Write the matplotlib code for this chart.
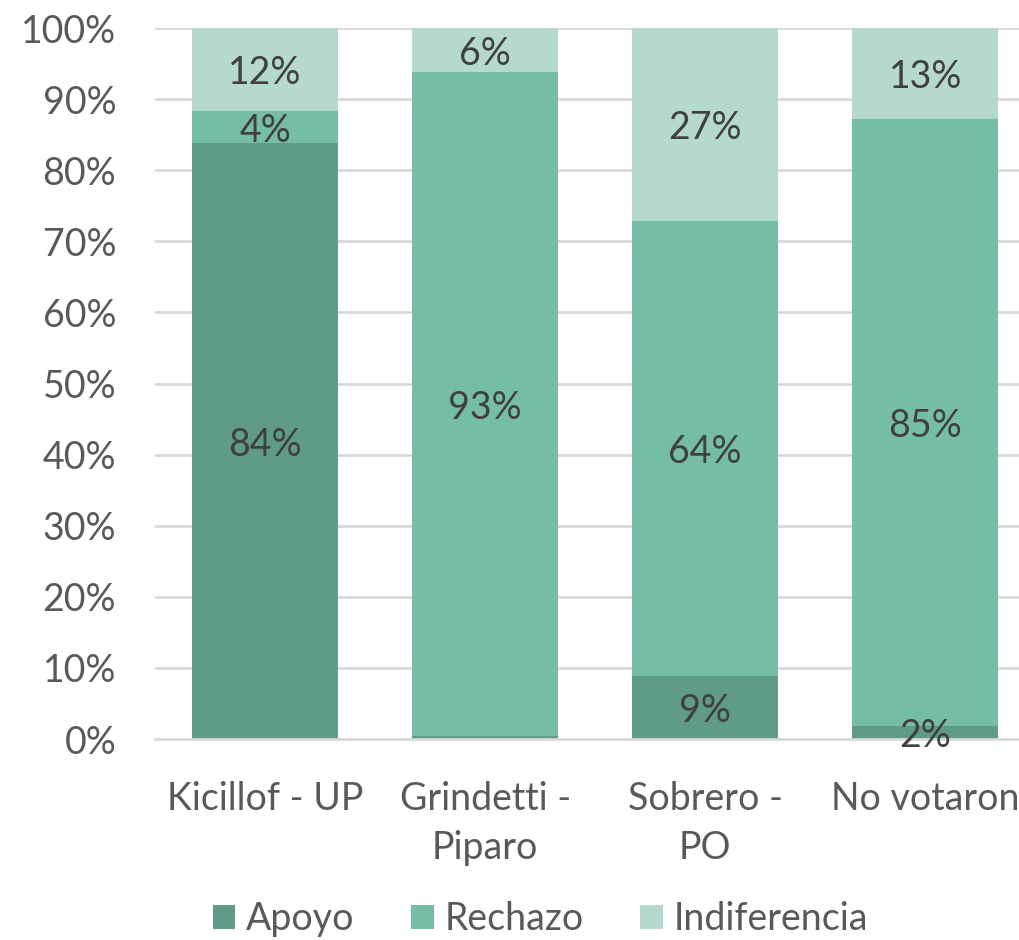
import numpy as np
from matplotlib import pyplot as plt

plt.rcParams['font.family'] = ['Lato', 'DejaVu Sans']

# values in percent
categories = ['Kicillof - UP', 'Grindetti -\nPiparo', 'Sobrero -\nPO', 'No votaron']
apoyo = [83.8, 0.4, 8.9, 1.8]
rechazo = [4.5, 93.4, 64.0, 85.4]
indiferencia = [11.7, 6.2, 27.1, 12.8]

series = [('Apoyo', apoyo, '#5f9b87'),
          ('Rechazo', rechazo, '#75bda6'),
          ('Indiferencia', indiferencia, '#b6d9cd')]

fig = plt.figure(figsize=(10.2, 9.4), dpi=100)
ax = fig.add_axes([0.152, 0.2138, 0.863, 0.7564])

x = np.arange(len(categories))
bottom = np.zeros(len(categories))
for name, vals, col in series:
    vals = np.array(vals)
    ax.bar(x, vals, width=0.664, bottom=bottom, color=col, label=name, zorder=2)
    for xi, b, v in zip(x, bottom, vals):
        if round(v) >= 1:
            ax.text(xi, b + v / 2, '%d%%' % round(v), ha='center', va='center_baseline',
                    fontsize=27, color='#404040', zorder=3)
    bottom += vals

ax.set_xlim(-0.5, 3.5)
ax.set_ylim(0, 100)
ax.set_yticks(range(0, 101, 10))
ax.set_yticklabels(['%d%%' % t for t in range(0, 101, 10)])
ax.set_xticks(x)
ax.set_xticklabels(categories, linespacing=1.45)
ax.tick_params(axis='y', length=0, pad=28, labelsize=27, labelcolor='#595959')
ax.tick_params(axis='x', length=0, pad=30, labelsize=27, labelcolor='#595959')
ax.yaxis.grid(True, color='#d9d9d9', linewidth=2, zorder=0)
ax.set_axisbelow(True)
for s in ['top', 'right', 'left']:
    ax.spines[s].set_visible(False)
ax.spines['bottom'].set_color('#d9d9d9')
ax.spines['bottom'].set_linewidth(2)

leg = fig.legend(loc='center', bbox_to_anchor=(0.53, 0.022), ncol=3, frameon=False,
                 fontsize=27, handlelength=0.6, handleheight=0.6, handletextpad=0.3,
                 columnspacing=1.5)
for t in leg.get_texts():
    t.set_color('#595959')

plt.savefig('out.png', dpi=100)
plt.close()
